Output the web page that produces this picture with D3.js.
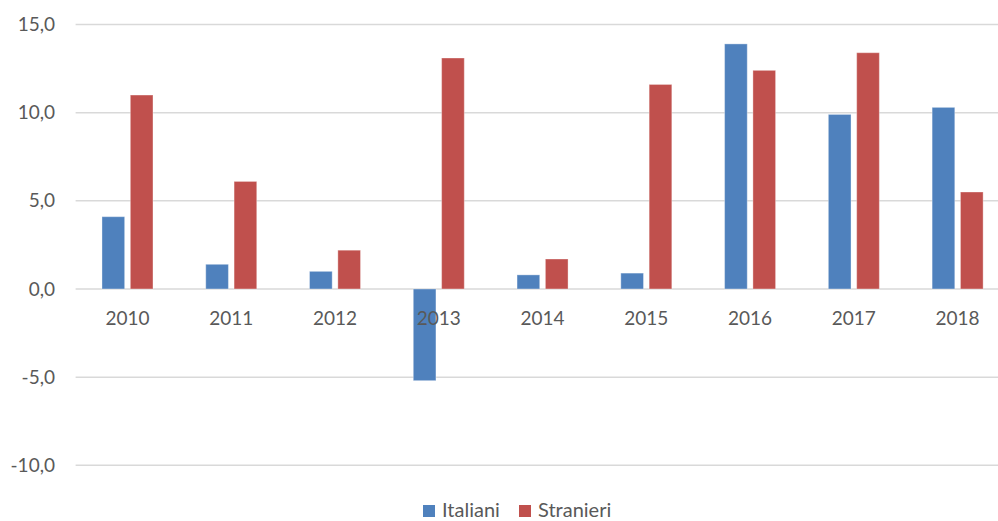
<!DOCTYPE html>
<html>
<head>
<meta charset="utf-8">
<script src="https://cdn.jsdelivr.net/npm/d3@7"></script>
<style>
  html, body { margin: 0; padding: 0; background: #fff; overflow: hidden; }
  svg { display: block; font-family: Lato, "Open Sans", sans-serif; }
  .grid line { stroke: #d9d9d9; stroke-width: 1.5; }
  .tick-label { fill: #595959; font-size: 19px; }
  .legend-text { fill: #595959; font-size: 20px; }
</style>
</head>
<body>
<svg id="chart" width="998" height="521"></svg>
<script>
const YEARS = ["2010", "2011", "2012", "2013", "2014", "2015", "2016", "2017", "2018"];
const SERIES = ["Italiani", "Stranieri"];
const ITALIANI = [4.1, 1.4, 1.0, -5.2, 0.8, 0.9, 13.9, 9.9, 10.3];
const STRANIERI = [11.0, 6.1, 2.2, 13.1, 1.7, 11.6, 12.4, 13.4, 5.5];
const Y_TICKS = [-10, -5, 0, 5, 10, 15];
const COLORS = ["#4f81bd", "#c0504d"];

const svg = d3.select("#chart");
const plotLeft = 75.6;
const plotRight = 1009.5;

const x = d3.scaleBand().domain(YEARS).range([plotLeft, plotRight]).padding(0);
const groupWidth = 51;
const x1 = d3.scaleBand().domain(SERIES).range([0, groupWidth]).paddingInner(0.2);
const y = d3.scaleLinear().domain([-10, 15]).range([465.3, 24.5]);
const color = d3.scaleOrdinal().domain(SERIES).range(COLORS);

const grid = svg.append("g").attr("class", "grid");
grid.selectAll("line")
  .data(Y_TICKS)
  .join("line")
  .attr("x1", plotLeft)
  .attr("x2", plotRight)
  .attr("y1", d => y(d))
  .attr("y2", d => y(d));

const fmt = d => d.toFixed(1).replace(".", ",");
svg.append("g").selectAll("text")
  .data(Y_TICKS)
  .join("text")
  .attr("class", "tick-label")
  .attr("x", 55)
  .attr("y", d => y(d))
  .attr("dy", "0.35em")
  .attr("text-anchor", "end")
  .text(fmt);

const rows = YEARS.map((year, i) => ({
  year,
  values: [
    { key: "Italiani", value: ITALIANI[i] },
    { key: "Stranieri", value: STRANIERI[i] }
  ]
}));

const groups = svg.append("g").selectAll("g")
  .data(rows)
  .join("g")
  .attr("transform", d => `translate(${x(d.year) + (x.bandwidth() - groupWidth) / 2},0)`);

groups.selectAll("rect")
  .data(d => d.values)
  .join("rect")
  .attr("x", d => x1(d.key))
  .attr("width", x1.bandwidth())
  .attr("y", d => Math.min(y(d.value), y(0)))
  .attr("height", d => Math.abs(y(d.value) - y(0)))
  .attr("fill", d => color(d.key))
  .attr("stroke", "#ffffff")
  .attr("stroke-opacity", 0.35)
  .attr("stroke-width", 1);

svg.append("g").selectAll("text")
  .data(YEARS)
  .join("text")
  .attr("class", "tick-label")
  .attr("x", d => x(d) + x.bandwidth() / 2)
  .attr("y", 325)
  .attr("text-anchor", "middle")
  .text(d => d);

// legend
const legendItems = [
  { key: "Italiani", x: 423 },
  { key: "Stranieri", x: 519 }
];
const legend = svg.append("g").selectAll("g")
  .data(legendItems)
  .join("g")
  .attr("transform", d => `translate(${d.x},505)`);
legend.append("rect")
  .attr("width", 12)
  .attr("height", 12)
  .attr("fill", d => color(d.key));
legend.append("text")
  .attr("class", "legend-text")
  .attr("x", 19)
  .attr("y", 12)
  .text(d => d.key);
</script>
</body>
</html>
